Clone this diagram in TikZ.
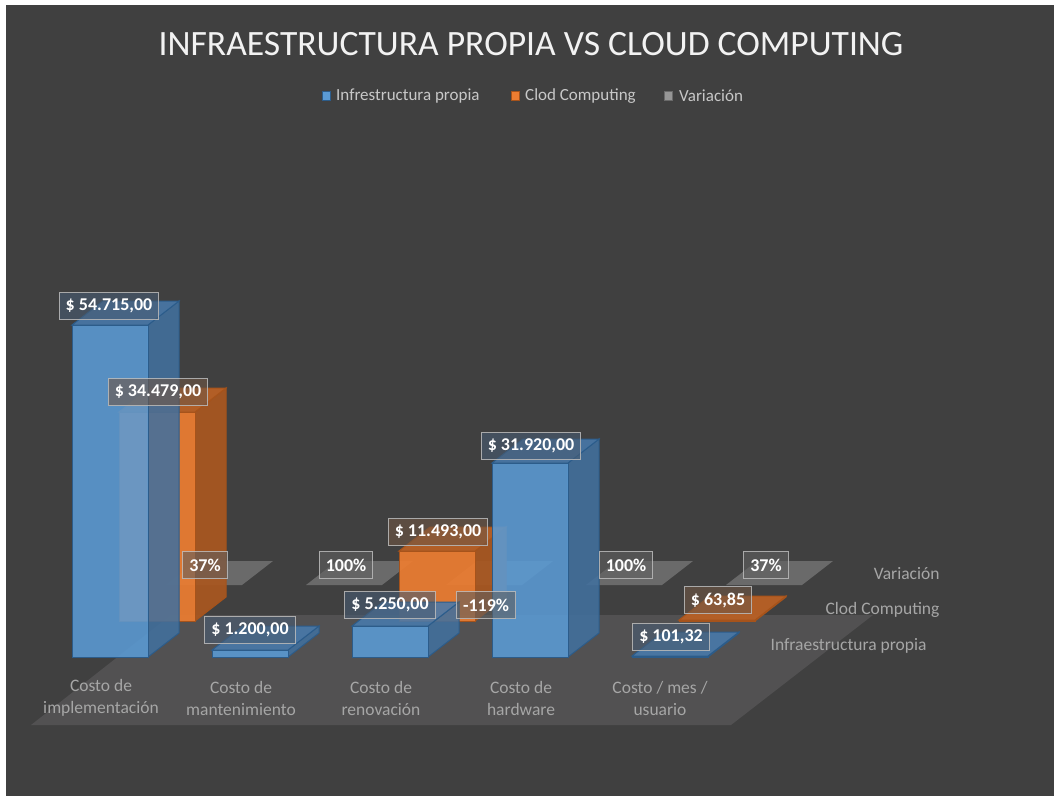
\documentclass[tikz,border=0pt]{standalone}
\usepackage{fontspec}
\setmainfont{Carlito}

\definecolor{fondo}{RGB}{64,64,64}
\definecolor{suelo}{RGB}{82,81,82}
\definecolor{azul}{RGB}{91,155,213}
\definecolor{azulosc}{RGB}{66,112,158}
\definecolor{azultapa}{RGB}{72,122,172}
\definecolor{azulborde}{RGB}{44,92,138}
\definecolor{naranja}{RGB}{237,125,49}
\definecolor{naranjaosc}{RGB}{170,87,32}
\definecolor{naranjatapa}{RGB}{188,97,36}
\definecolor{naranjaborde}{RGB}{166,83,27}
\definecolor{gris}{RGB}{106,106,106}
\definecolor{grisley}{RGB}{150,150,150}
\definecolor{textogris}{RGB}{166,166,166}
\definecolor{textoley}{RGB}{200,200,200}
\definecolor{bordeetq}{RGB}{188,188,188}
\definecolor{etqazul}{RGB}{72,92,114}
\definecolor{etqnaranja}{RGB}{112,86,68}
\definecolor{etqgris}{RGB}{96,96,96}

% Saeule: linke Kante, Basis, Oberkante, Farbe
\newcommand{\barra}[4]{%
  \filldraw[#4lado] (#1+76,#2) -- ++(31,-24) -- (#1+107,#3-24) -- (#1+76,#3) -- cycle;
  \filldraw[#4tapa] (#1,#3) -- (#1+76,#3) -- (#1+107,#3-24) -- (#1+31,#3-24) -- cycle;
  \filldraw[#4frente] (#1,#2) rectangle (#1+76,#3);}
% flache Platte
\newcommand{\placa}[3]{%
  \filldraw[#3] (#1,#2) -- (#1+76,#2) -- (#1+107,#2-24) -- (#1+31,#2-24) -- cycle;}

\begin{document}
\begin{tikzpicture}[x=1pt,y=-1pt]
  \tikzstyle{azulfrente}=[fill=azul, draw=azulborde, line width=1pt, fill opacity=0.88]
  \tikzstyle{azullado}=[fill=azulosc, draw=azulborde, line width=1pt, fill opacity=0.88]
  \tikzstyle{azultapa}=[fill=azultapa, draw=azulborde, line width=1pt, fill opacity=0.88]
  \tikzstyle{naranjafrente}=[fill=naranja, draw=naranjaborde, line width=1pt, fill opacity=0.92]
  \tikzstyle{naranjalado}=[fill=naranjaosc, draw=naranjaborde, line width=1pt, fill opacity=0.92]
  \tikzstyle{naranjatapa}=[fill=naranjatapa, draw=naranjaborde, line width=1pt, fill opacity=0.92]
  \tikzstyle{plano}=[fill=gris, draw=none]
  \tikzstyle{etq}=[draw=bordeetq, draw opacity=0.85, line width=1.1pt, fill opacity=0.6, text opacity=1,
    text=white, font=\bfseries\fontsize{18}{20}\selectfont, minimum height=27pt, inner xsep=6.5pt, inner ysep=0pt]
  \tikzstyle{ea}=[etq, fill=etqazul]
  \tikzstyle{en}=[etq, fill=etqnaranja]
  \tikzstyle{eg}=[etq, fill=etqgris]
  \tikzstyle{cat}=[text=textogris, align=center, font=\fontsize{17.5}{22}\selectfont]
  \tikzstyle{serie}=[text=textogris, anchor=east, font=\fontsize{17.5}{20}\selectfont]
  \tikzstyle{leyenda}=[text=textoley, anchor=west, inner sep=0pt, font=\fontsize{17}{20}\selectfont]
  \tikzstyle{cuadro}=[minimum width=8pt, minimum height=9pt, inner sep=0pt]

  \useasboundingbox (0,0) rectangle (1054,796);
  \fill[white] (0,0) rectangle (1054,796);
  \fill[fondo] (6,5) rectangle (1054,796);

  % Titel und Legende
  \node[text={rgb,255:red,242;green,242;blue,242}, font=\fontsize{35.6}{40}\selectfont] (titulo) at (531,44)
    {INFRAESTRUCTURA PROPIA VS CLOUD COMPUTING};
  \node[cuadro, fill=azul, draw=azulborde] (k1) at (326,96) {};
  \node[leyenda] (l1) at (336,96) {Infrestructura propia};
  \node[cuadro, fill=naranja, draw=naranjaborde] (k2) at (515,96) {};
  \node[leyenda] (l2) at (525,96) {Clod Computing};
  \node[cuadro, fill=grisley, draw=gris] (k3) at (668,96) {};
  \node[leyenda] (l3) at (679,96) {Variación};

  % Boden
  \fill[suelo] (31,725) -- (731,725) -- (873,615) -- (171,615) -- cycle;

  % Variacion
  \placa{166}{585}{plano}
  \placa{306}{585}{plano}
  \placa{446}{585}{plano}
  \placa{586}{585}{plano}
  \placa{726}{585}{plano}

  % Clod Computing
  \barra{119}{621}{412}{naranja}
  \barra{399}{621}{551}{naranja}
  \barra{679}{621}{620}{naranja}

  % Infraestructura propia
  \barra{72}{657}{325}{azul}
  \barra{212}{657}{650}{azul}
  \barra{352}{657}{626}{azul}
  \barra{492}{657}{463}{azul}
  \barra{632}{657}{656}{azul}

  % Datenbeschriftungen
  \node[ea] (a1) at (109,306) {\$ 54.715,00};
  \node[en] (n1) at (158,392) {\$ 34.479,00};
  \node[eg] (v1) at (205,565) {37\%};
  \node[ea] (a2) at (250,630) {\$ 1.200,00};
  \node[eg] (v2) at (346,565) {100\%};
  \node[en] (n3) at (438,532) {\$ 11.493,00};
  \node[ea] (a3) at (390,605) {\$ 5.250,00};
  \node[eg] (v3) at (486,605) {-119\%};
  \node[ea] (a4) at (531,446) {\$ 31.920,00};
  \node[eg] (v4) at (626,565) {100\%};
  \node[eg] (v5) at (766,565) {37\%};
  \node[en] (n5) at (718,600) {\$ 63,85};
  \node[ea] (a5) at (671,637) {\$ 101,32};

  % Achsen
  \node[cat] (x1) at (101,698) {Costo de\\implementación};
  \node[cat] (x2) at (241,698) {Costo de\\mantenimiento};
  \node[cat] (x3) at (381,698) {Costo de\\renovación};
  \node[cat] (x4) at (521,698) {Costo de\\hardware};
  \node[cat] (x5) at (660,698) {Costo / mes /\\usuario};
  \node[serie] (s3) at (943,574) {Variación};
  \node[serie] (s2) at (943,610) {Clod Computing};
  \node[serie] (s1) at (930,646) {Infraestructura propia};
\end{tikzpicture}
\end{document}
